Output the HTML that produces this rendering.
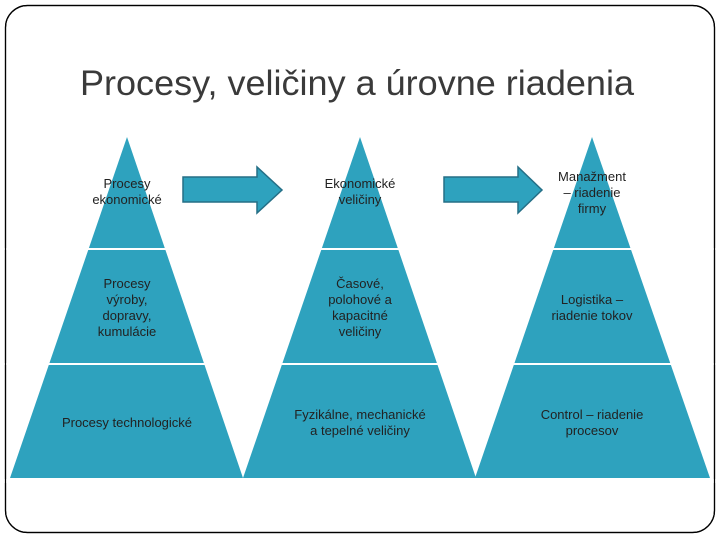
<!DOCTYPE html>
<html><head><meta charset="utf-8"><style>
body{margin:0;background:#fff;}
svg{display:block;font-family:"Liberation Sans",sans-serif;}
</style></head><body>
<svg width="720" height="540" viewBox="0 0 720 540">
<rect x="5.5" y="5.5" width="709" height="527" rx="22" fill="#fff" stroke="#000" stroke-width="1.2"/>
<text x="80" y="95" font-size="35" textLength="554" lengthAdjust="spacingAndGlyphs" fill="#3a3a3a">Procesy, veličiny a úrovne riadenia</text>
<g fill="#2EA2BE">
<polygon points="127,137 243,478 10,478"/>
<polygon points="360,137 476,478 243,478"/>
<polygon points="592,137 710,478 475,478"/>
</g>
<g stroke="#fff" stroke-width="2">
<line x1="0" y1="249" x2="720" y2="249"/>
<line x1="0" y1="364" x2="720" y2="364"/>
</g>
<rect x="0" y="479" width="720" height="4" fill="#fff"/>
<rect x="5.5" y="5.5" width="709" height="527" rx="22" fill="none" stroke="#000" stroke-width="1.2"/>
<g fill="#2EA2BE" stroke="#256f86" stroke-width="1.5">
<polygon points="183,177 257,177 257,167 282,190 257,213 257,202 183,202"/>
<polygon points="444,177 518,177 518,167 542,190 518,213 518,202 444,202"/>
</g>
<g font-size="13" text-anchor="middle" fill="#222">
<text x="127" y="188">Procesy</text><text x="127" y="204">ekonomické</text>
<text x="127" y="288">Procesy</text><text x="127" y="304">výroby,</text><text x="127" y="320">dopravy,</text><text x="127" y="336">kumulácie</text>
<text x="127" y="427">Procesy technologické</text>
<text x="360" y="188">Ekonomické</text><text x="360" y="204">veličiny</text>
<text x="360" y="288">Časové,</text><text x="360" y="304">polohové a</text><text x="360" y="320">kapacitné</text><text x="360" y="336">veličiny</text>
<text x="360" y="419">Fyzikálne, mechanické</text><text x="360" y="435">a tepelné veličiny</text>
<text x="592" y="181">Manažment</text><text x="592" y="197">– riadenie</text><text x="592" y="213">firmy</text>
<text x="592" y="304">Logistika –</text><text x="592" y="320">riadenie tokov</text>
<text x="592" y="419">Control – riadenie</text><text x="592" y="435">procesov</text>
</g>
</svg>
</body></html>
